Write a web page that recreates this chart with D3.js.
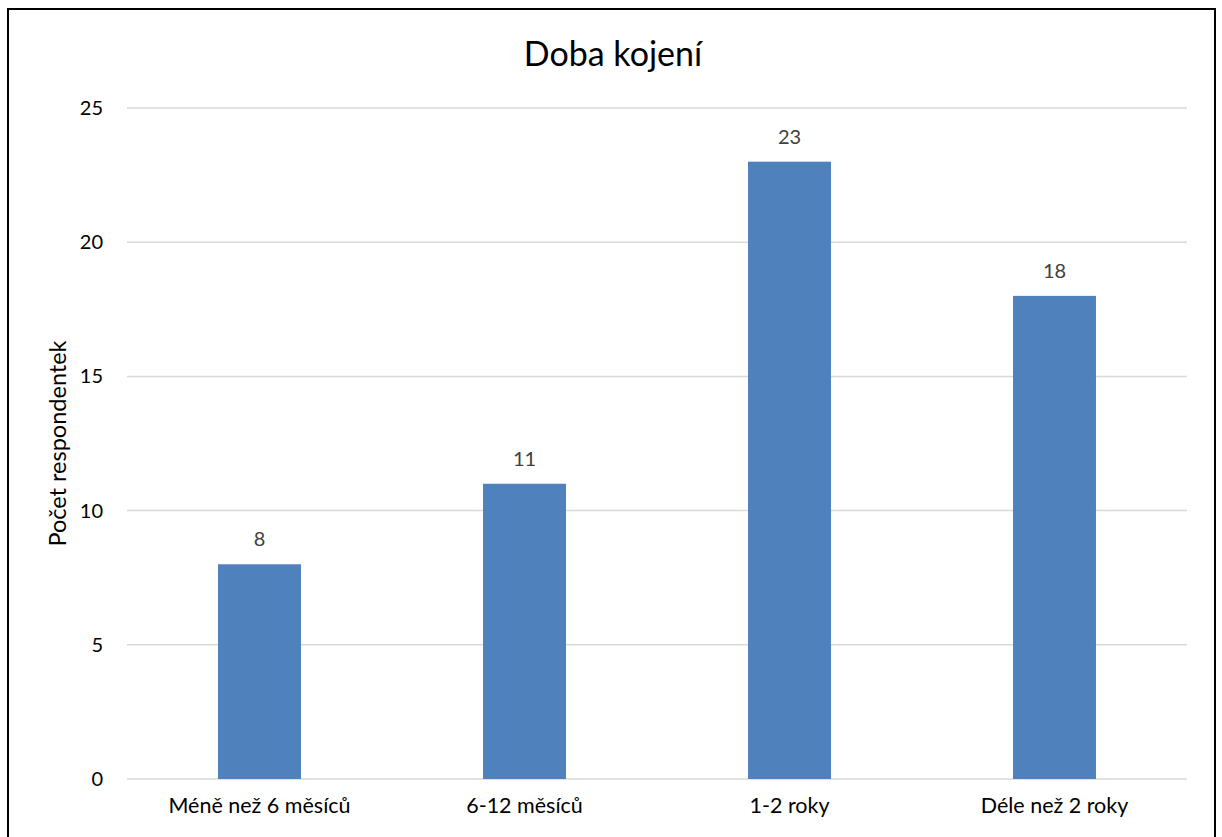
<!DOCTYPE html>
<html>
<head>
<meta charset="utf-8">
<script src="https://cdn.jsdelivr.net/npm/d3@7"></script>
<style>
  html, body { margin: 0; padding: 0; background: #fff; }
  svg { display: block; }
</style>
</head>
<body>
<svg id="chart" width="1222" height="837"></svg>
<script>
// Breastfeeding duration survey
const categories = ["Méně než 6 měsíců", "6-12 měsíců", "1-2 roky", "Déle než 2 roky"];
const counts = [8, 11, 23, 18];
const yTicks = [0, 5, 10, 15, 20, 25];
const chartTitle = "Doba kojení";
const yTitle = "Počet respondentek";

const svg = d3.select("#chart");
const W = 1222, H = 837;
const font = "Lato, 'Open Sans', sans-serif";
const margin = { left: 127, right: 35, top: 108, bottom: 58 };

// outer frame (bottom edge runs past the page)
svg.append("rect")
  .attr("x", 8).attr("y", 9)
  .attr("width", 1207).attr("height", 860)
  .attr("fill", "#fff").attr("stroke", "#000").attr("stroke-width", 2);

const x = d3.scaleBand()
  .domain(categories)
  .range([margin.left, W - margin.right])
  .paddingInner(0.687).paddingOuter(0.3435);

const y = d3.scaleLinear()
  .domain([0, 25])
  .range([H - margin.bottom, margin.top]);

// horizontal gridlines
svg.append("g")
  .selectAll("line")
  .data(yTicks)
  .join("line")
  .attr("x1", margin.left).attr("x2", W - margin.right)
  .attr("y1", d => y(d)).attr("y2", d => y(d))
  .attr("stroke", "#d9d9d9").attr("stroke-width", 1.5);

// y axis tick labels
const yAxis = d3.axisLeft(y).tickValues(yTicks).tickSize(0).tickPadding(24);
const gy = svg.append("g").attr("transform", `translate(${margin.left},0)`).call(yAxis);
gy.select(".domain").remove();
gy.selectAll("text").attr("font-family", font).attr("font-size", 20).attr("fill", "#000");

// bars
svg.append("g")
  .selectAll("rect")
  .data(counts)
  .join("rect")
  .attr("x", (d, i) => x(categories[i]))
  .attr("width", x.bandwidth())
  .attr("y", d => y(d))
  .attr("height", d => y(0) - y(d))
  .attr("fill", "#4f81bd");

// value labels
svg.append("g")
  .selectAll("text")
  .data(counts)
  .join("text")
  .attr("x", (d, i) => x(categories[i]) + x.bandwidth() / 2)
  .attr("y", d => y(d) - 18)
  .attr("text-anchor", "middle")
  .attr("font-family", font).attr("font-size", 20)
  .attr("fill", "#404040")
  .text(d => d);

// x axis category labels
const xAxis = d3.axisBottom(x).tickSize(0).tickPadding(19);
const gx = svg.append("g").attr("transform", `translate(0,${y(0)})`).call(xAxis);
gx.select(".domain").remove();
gx.selectAll("text").attr("font-family", font).attr("font-size", 21.5).attr("fill", "#000");

// title
svg.append("text")
  .attr("x", 613).attr("y", 66)
  .attr("text-anchor", "middle")
  .attr("font-family", font).attr("font-size", 34)
  .attr("fill", "#000")
  .text(chartTitle);

// y axis title
svg.append("text")
  .attr("transform", `translate(66,${(y(0) + y(25)) / 2}) rotate(-90)`)
  .attr("text-anchor", "middle")
  .attr("font-family", font).attr("font-size", 23.5)
  .attr("fill", "#000")
  .text(yTitle);
</script>
</body>
</html>
